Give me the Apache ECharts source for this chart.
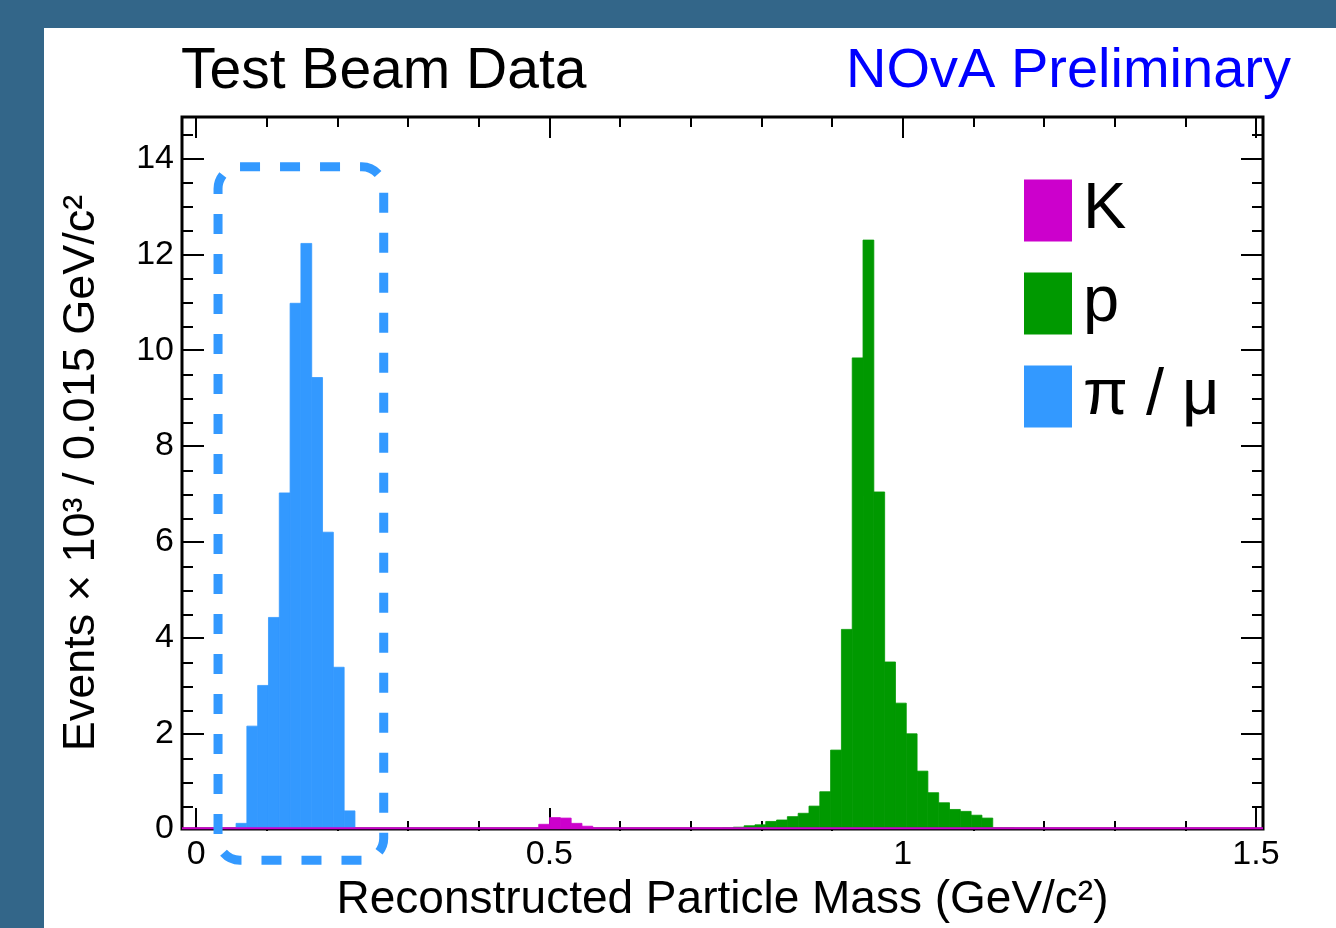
<!DOCTYPE html>
<html lang="en">

<head>
  <meta charset="UTF-8" />
  <title>Test Beam Data - reconstructed mass</title>
  <script src="https://cdn.jsdelivr.net/npm/echarts@6/dist/echarts.min.js"></script>
  <style>
    body { margin: 0; background: #336689; width: 1336px; height: 928px; overflow: hidden; }
    #main { position: absolute; left: 44px; top: 28px; width: 1292px; height: 900px; background: #fff; }
  </style>
</head>

<body>
  <div id="main"></div>
  <script type="text/javascript">
    // histogram binning: 100 bins over the axis range
    var binLo = -0.02
    var binWidth = 0.0153

    // pi / mu (first bin index + counts in thousands)
    var piFirstBin = 5
    var piCounts = [0.12, 2.15, 3.0, 4.42, 7.02, 10.98, 12.23, 9.43, 6.2, 3.38, 0.38]

    // kaons
    var kFirstBin = 33
    var kCounts = [0.1, 0.24, 0.23, 0.12, 0.06]

    // protons
    var pFirstBin = 50
    var pCounts = [0.02, 0.04, 0.07, 0.09, 0.16, 0.19, 0.26, 0.33, 0.48, 0.78, 1.65, 4.17, 9.84, 12.3,
      7.04, 3.49, 2.63, 1.99, 1.21, 0.76, 0.55, 0.41, 0.37, 0.29, 0.23, 0.02, 0.02]

    // axis ticks
    var xMajor = [0, 0.5, 1, 1.5]
    var xMinor = [0.1, 0.2, 0.3, 0.4, 0.6, 0.7, 0.8, 0.9, 1.1, 1.2, 1.3, 1.4]
    var yMajor = [0, 2, 4, 6, 8, 10, 12, 14]
    var yMinor = [0.5, 1, 1.5, 2.5, 3, 3.5, 4.5, 5, 5.5, 6.5, 7, 7.5, 8.5, 9, 9.5,
      10.5, 11, 11.5, 12.5, 13, 13.5, 14.5]

    var xMin = -0.02, xMax = 1.51
    var yMin = 0, yMax = 14.87

    var font = "'Liberation Sans', Arial, Helvetica, sans-serif"
    var plotRect = { left: 138, top: 89, right: 73, bottom: 97 }

    function toBins(first, counts) {
      return counts.map(function (c, i) {
        var lo = binLo + (first + i) * binWidth
        return [lo, lo + binWidth, c]
      })
    }

    function renderHist(params, api) {
      var top = api.coord([api.value(0), api.value(2)])
      var bot = api.coord([api.value(1), 0])
      var col = api.visual('color')
      return {
        type: 'rect',
        shape: { x: top[0], y: top[1], width: bot[0] - top[0], height: bot[1] - top[1] },
        style: { fill: col, stroke: col, lineWidth: 0.8 }
      }
    }

    function xAxisCfg(grid, pos, ticks, len, withLabel) {
      return {
        type: 'value', gridIndex: grid, position: pos, min: xMin, max: xMax,
        axisLine: { show: false, onZero: false }, splitLine: { show: false },
        axisTick: { show: true, inside: true, length: len, customValues: ticks, lineStyle: { color: '#000', width: 2 } },
        axisLabel: withLabel ? { show: true, customValues: ticks, margin: 9, fontSize: 34, color: '#000', fontFamily: font } : { show: false }
      }
    }

    function yAxisCfg(grid, pos, ticks, len, withLabel) {
      return {
        type: 'value', gridIndex: grid, position: pos, min: yMin, max: yMax,
        axisLine: { show: false, onZero: false }, splitLine: { show: false },
        axisTick: { show: true, inside: true, length: len, customValues: ticks, lineStyle: { color: '#000', width: 2 } },
        axisLabel: withLabel ? { show: true, customValues: ticks, margin: 8, fontSize: 34, color: '#000', fontFamily: font } : { show: false }
      }
    }

    var myChart = echarts.init(document.getElementById('main'))

    var xMain = xAxisCfg(0, 'bottom', xMajor, 21, true)
    xMain.name = 'Reconstructed Particle Mass (GeV/c²)'
    xMain.nameLocation = 'middle'
    xMain.nameGap = 45
    xMain.nameTextStyle = { fontSize: 46, color: '#000', fontFamily: font }

    var yMain = yAxisCfg(0, 'left', yMajor, 22, true)
    yMain.name = 'Events × 10³ / 0.015 GeV/c²'
    yMain.nameLocation = 'middle'
    yMain.nameGap = 78
    yMain.nameTextStyle = { fontSize: 45, color: '#000', fontFamily: font }

    var option = {
      animation: false,
      textStyle: { fontFamily: font },
      title: [
        { text: 'Test Beam Data', left: 132, top: 11, textStyle: { fontSize: 57, fontWeight: 'normal', color: '#000', fontFamily: font } },
        { text: 'NOvA Preliminary', right: 40, top: 11, textStyle: { fontSize: 56, fontWeight: 'normal', color: '#0000ff', fontFamily: font } }
      ],
      legend: {
        orient: 'vertical', left: 975, top: 145,
        itemWidth: 48, itemHeight: 62, itemGap: 28, icon: 'rect',
        data: ['K', 'p', 'π / μ'],
        textStyle: { fontSize: 65, color: '#000', fontFamily: font, padding: [0, 0, 0, 6] }
      },
      grid: [
        Object.assign({ show: true, borderColor: '#000', borderWidth: 3, backgroundColor: 'transparent' }, plotRect),
        Object.assign({ show: false }, plotRect)
      ],
      xAxis: [
        xMain,
        xAxisCfg(0, 'top', xMajor, 21, false),
        xAxisCfg(1, 'bottom', xMinor, 10, false),
        xAxisCfg(1, 'top', xMinor, 10, false)
      ],
      yAxis: [
        yMain,
        yAxisCfg(0, 'right', yMajor, 22, false),
        yAxisCfg(1, 'left', yMinor, 11, false),
        yAxisCfg(1, 'right', yMinor, 11, false)
      ],
      series: [
        {
          name: 'π / μ', type: 'custom', renderItem: renderHist, clip: true,
          xAxisIndex: 0, yAxisIndex: 0,
          itemStyle: { color: '#3399ff' }, encode: { x: [0, 1], y: 2 },
          data: toBins(piFirstBin, piCounts), z: 3
        },
        {
          name: 'p', type: 'custom', renderItem: renderHist, clip: true,
          xAxisIndex: 0, yAxisIndex: 0,
          itemStyle: { color: '#009900' }, encode: { x: [0, 1], y: 2 },
          data: toBins(pFirstBin, pCounts), z: 3
        },
        {
          name: 'K', type: 'custom', renderItem: renderHist, clip: true,
          xAxisIndex: 0, yAxisIndex: 0,
          itemStyle: { color: '#cc00cc' }, encode: { x: [0, 1], y: 2 },
          data: toBins(kFirstBin, kCounts), z: 4
        },
        {
          // kaon histogram outline along zero
          type: 'line', symbol: 'none', silent: true, z: 5,
          xAxisIndex: 0, yAxisIndex: 0,
          lineStyle: { color: '#cc00cc', width: 2 },
          data: [[xMin, 0.02], [xMax, 0.02]]
        }
      ]
    }

    myChart.setOption(option)

    // dashed selection box around the pi / mu peak
    var boxTL = myChart.convertToPixel({ xAxisIndex: 0, yAxisIndex: 0 }, [0.031, 13.83])
    var boxBR = myChart.convertToPixel({ xAxisIndex: 0, yAxisIndex: 0 }, [0.2655, -0.65])
    myChart.setOption({
      graphic: [{
        type: 'rect', z: 100, silent: true,
        shape: { x: boxTL[0], y: boxTL[1], width: boxBR[0] - boxTL[0], height: boxBR[1] - boxTL[1], r: 22 },
        style: { fill: 'none', stroke: '#3399ff', lineWidth: 9, lineDash: [20, 20] }
      }]
    })
  </script>
</body>

</html>
